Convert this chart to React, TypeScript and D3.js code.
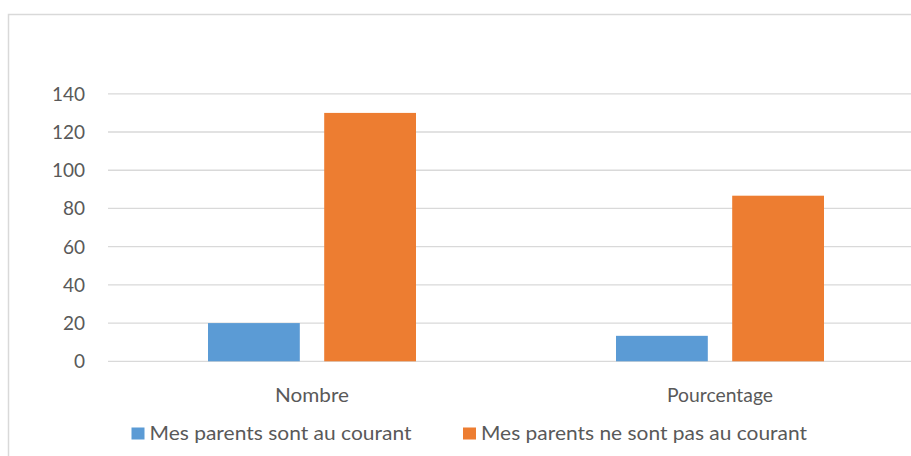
import React from "react";
import * as d3 from "d3";

const categories = ["Nombre", "Pourcentage"];
const seriesNames = ["Mes parents sont au courant", "Mes parents ne sont pas au courant"];
const seriesInformed = [20, 13.33];
const seriesNotInformed = [130, 86.67];
const yTicks = [0, 20, 40, 60, 80, 100, 120, 140];
const colors = ["#5b9bd5", "#ed7d31"];

const W = 911;
const H = 456;
const FONT = "Lato, 'Open Sans', sans-serif";

export default function App() {
  const y = d3.scaleLinear().domain([0, 140]).range([361.3, 93.8]);
  const x0 = d3.scaleBand<string>().domain(categories).range([108, 924]).padding(0);
  const groupHalf = 104;
  const values = [seriesInformed, seriesNotInformed];
  const catWidths = [74, 106];

  return (
    <svg
      width={W}
      height={H}
      style={{ position: "absolute", left: 0, top: 0, background: "#fff" }}
      fontFamily={FONT}
    >
      <rect x={8.5} y={14.5} width={1000} height={1000} fill="#fff" stroke="#d9d9d9" strokeWidth={1.5} />
      {yTicks.map((t) => (
        <g key={t}>
          <line x1={108} x2={W} y1={y(t)} y2={y(t)} stroke="#d9d9d9" strokeWidth={1.3} />
          <text x={85} y={y(t) + 7} textAnchor="end" fontSize={19} fill="#595959">
            {t}
          </text>
        </g>
      ))}
      {categories.map((c, i) => {
        const center = (x0(c) as number) + x0.bandwidth() / 2;
        const x1 = d3
          .scaleBand<string>()
          .domain(seriesNames)
          .range([center - groupHalf, center + groupHalf])
          .paddingInner(0.21)
          .paddingOuter(0);
        return (
          <g key={c}>
            {seriesNames.map((s, j) => (
              <rect
                key={s}
                x={x1(s)}
                y={y(values[j][i])}
                width={x1.bandwidth()}
                height={y(0) - y(values[j][i])}
                fill={colors[j]}
              />
            ))}
            <text
              x={center - catWidths[i] / 2}
              y={402}
              fontSize={20}
              fill="#595959"
              textLength={catWidths[i]}
              lengthAdjust="spacingAndGlyphs"
            >
              {c}
            </text>
          </g>
        );
      })}
      {seriesNames.map((s, j) => {
        const lx = [131.5, 463][j];
        const tw = [262, 326][j];
        return (
          <g key={s}>
            <rect x={lx} y={427.5} width={13} height={12} fill={colors[j]} />
            <text x={lx + 18} y={440} fontSize={20} fill="#595959" textLength={tw} lengthAdjust="spacingAndGlyphs">
              {s}
            </text>
          </g>
        );
      })}
    </svg>
  );
}
